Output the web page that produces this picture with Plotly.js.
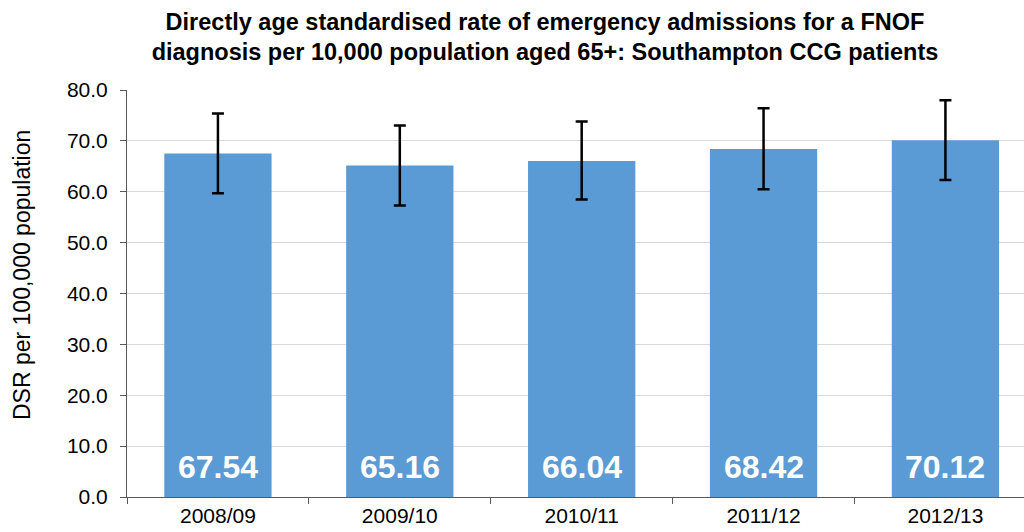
<!DOCTYPE html>
<html>
<head>
<meta charset="utf-8">
<script src="https://cdn.plot.ly/plotly-3.0.1.min.js"></script>
<style>html,body{margin:0;padding:0;background:#fff;}#chart{width:1024px;height:532px;}</style>
</head>
<body>
<div id="chart"></div>
<script>
const years = ["2008/09", "2009/10", "2010/11", "2011/12", "2012/13"];
const dsr = [67.54, 65.16, 66.04, 68.42, 70.12];
const upperCI = [75.4, 73.0, 73.8, 76.4, 78.0];
const lowerCI = [59.7, 57.3, 58.5, 60.5, 62.3];
const yTicks = [0, 10, 20, 30, 40, 50, 60, 70, 80];

const FONT = "Liberation Sans, Arial, sans-serif";

const trace = {
  type: "bar",
  x: years,
  y: dsr,
  width: 0.59,
  marker: {color: "#5b9bd5"},
  error_y: {
    type: "data",
    symmetric: false,
    array: upperCI.map((u, i) => u - dsr[i]),
    arrayminus: dsr.map((v, i) => v - lowerCI[i]),
    color: "#000000",
    thickness: 2.5,
    width: 6
  },
  hoverinfo: "none"
};

const labelAnnotations = years.map((yr, i) => ({
  x: yr,
  y: 0,
  xref: "x",
  yref: "y",
  text: "<b>" + dsr[i].toFixed(2) + "</b>",
  showarrow: false,
  yanchor: "middle",
  yshift: 30,
  font: {family: FONT, size: 32, color: "#ffffff"}
}));

const layout = {
  width: 1024,
  height: 532,
  margin: {l: 127, r: 0, t: 90, b: 35},
  paper_bgcolor: "#ffffff",
  plot_bgcolor: "#ffffff",
  showlegend: false,
  font: {family: FONT, color: "#000000"},
  title: {
    text: "<b>Directly age standardised rate of emergency admissions for a FNOF<br>diagnosis per 10,000 population aged 65+: Southampton CCG patients</b>",
    font: {family: FONT, size: 23.5, color: "#000000"},
    x: 545 / 1024,
    xanchor: "center",
    xref: "container",
    y: 0.944,
    yanchor: "middle",
    yref: "container"
  },
  xaxis: {
    type: "category",
    range: [-0.5, 4.432],
    showline: true,
    linecolor: "#595959",
    linewidth: 1,
    ticks: "outside",
    tickson: "boundaries",
    ticklen: 6,
    tickcolor: "#595959",
    tickfont: {family: FONT, size: 21, color: "#000000"},
    showgrid: false,
    zeroline: false,
    fixedrange: true
  },
  yaxis: {
    range: [0, 80],
    tickvals: yTicks,
    ticktext: yTicks.map(v => v.toFixed(1)),
    showline: true,
    linecolor: "#595959",
    linewidth: 1,
    ticks: "outside",
    ticklen: 6,
    tickcolor: "#595959",
    ticklabelstandoff: 8,
    tickfont: {family: FONT, size: 21, color: "#000000"},
    showgrid: true,
    gridcolor: "#d9d9d9",
    gridwidth: 1,
    zeroline: false,
    fixedrange: true
  },
  annotations: labelAnnotations.concat([{
    xref: "paper",
    yref: "paper",
    x: (22 - 127) / 897,
    y: (497 - 275) / 407,
    xanchor: "center",
    yanchor: "middle",
    textangle: -90,
    text: "DSR per 100,000 population",
    showarrow: false,
    font: {family: FONT, size: 23, color: "#000000"}
  }])
};

Plotly.newPlot("chart", [trace], layout, {displayModeBar: false, staticPlot: true});
</script>
</body>
</html>
